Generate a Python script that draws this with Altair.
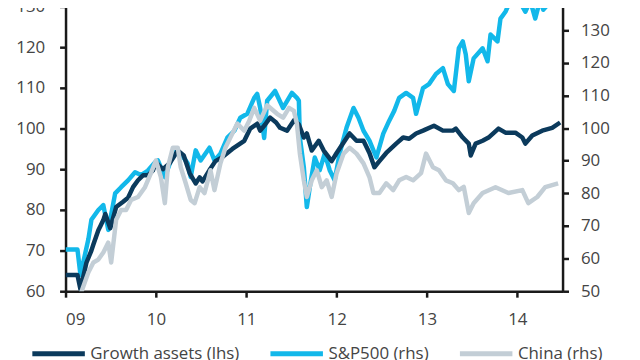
import altair as alt
import pandas as pd

series_names = ["Growth assets (lhs)", "S&P500 (rhs)", "China (rhs)"]
series_colors = ["#0b3a5c", "#12b8ea", "#c3ced6"]

x_ticks = [9, 10, 11, 12, 13, 14]
lhs_ticks = [60, 70, 80, 90, 100, 110, 120, 130]
rhs_ticks = [50, 60, 70, 80, 90, 100, 110, 120, 130, 140]

growth_t = [9.000, 9.132, 9.165, 9.231, 9.286, 9.308, 9.363, 9.385, 9.418, 9.440, 9.495,
            9.560, 9.637, 9.692, 9.747, 9.802, 9.857, 9.912, 9.967, 10.000, 10.077, 10.154,
            10.242, 10.308, 10.374, 10.440, 10.484, 10.516, 10.593, 10.659, 10.736, 10.846,
            10.978, 11.044, 11.121, 11.154, 11.209, 11.264, 11.330, 11.374, 11.451, 11.527,
            11.582, 11.637, 11.670, 11.725, 11.802, 11.857, 11.945, 12.000, 12.143, 12.220,
            12.297, 12.363, 12.418, 12.473, 12.549, 12.659, 12.736, 12.802, 12.879, 12.956,
            13.077, 13.176, 13.286, 13.319, 13.396, 13.462, 13.484, 13.538, 13.615, 13.681,
            13.791, 13.868, 13.978, 14.055, 14.088, 14.165, 14.275, 14.385, 14.473]
growth_v = [64.0, 64.0, 60.5, 67.0, 70.0, 71.5, 75.0, 76.0, 77.5, 79.0, 75.5,
            80.7, 82.0, 83.0, 85.6, 87.3, 88.5, 88.5, 89.7, 91.7, 90.0, 91.5,
            94.6, 93.4, 89.0, 86.5, 88.0, 87.0, 89.8, 92.0, 93.0, 95.0,
            97.0, 100.0, 101.2, 99.5, 101.0, 102.7, 101.5, 100.2, 99.5, 102.0,
            101.0, 97.8, 98.8, 94.6, 97.0, 94.6, 92.0, 94.0, 98.8, 97.0,
            97.0, 94.0, 90.5, 92.0, 94.0, 96.3, 97.8, 97.5, 98.8, 99.5,
            100.7, 99.5, 99.5, 100.0, 97.8, 96.3, 93.4, 96.3, 97.0, 97.8,
            100.0, 99.0, 99.0, 97.8, 96.3, 98.3, 99.5, 100.2, 101.5]

sp_t = [9.000, 9.132, 9.165, 9.253, 9.286, 9.363, 9.418, 9.473, 9.549, 9.615, 9.692,
        9.769, 9.835, 9.912, 9.989, 10.022, 10.099, 10.209, 10.275, 10.352, 10.385, 10.440,
        10.495, 10.593, 10.648, 10.714, 10.791, 10.868, 10.934, 11.011, 11.088, 11.121,
        11.154, 11.198, 11.231, 11.319, 11.407, 11.505, 11.560, 11.582, 11.593, 11.637,
        11.670, 11.703, 11.758, 11.813, 11.868, 11.923, 11.978, 12.033, 12.110, 12.187,
        12.242, 12.297, 12.363, 12.440, 12.516, 12.582, 12.637, 12.692, 12.769, 12.846,
        12.879, 12.956, 13.022, 13.099, 13.176, 13.231, 13.297, 13.352, 13.396, 13.429,
        13.462, 13.516, 13.615, 13.670, 13.703, 13.780, 13.813, 13.868, 13.923, 13.978,
        14.011, 14.088, 14.143, 14.198, 14.253, 14.286, 14.341]
sp_v = [62.8, 62.8, 55.0, 66.0, 71.9, 74.9, 76.4, 68.8, 80.0, 81.9, 84.0,
        86.5, 85.6, 87.0, 89.5, 90.1, 85.0, 93.2, 92.2, 89.2, 85.0, 93.2,
        90.1, 94.0, 90.1, 92.2, 97.1, 99.2, 103.2, 104.4, 109.3, 110.5,
        106.2, 97.0, 108.4, 111.4, 106.2, 110.8, 109.3, 108.4, 97.1, 88.0,
        75.8, 81.9, 91.0, 87.1, 92.2, 87.1, 84.0, 92.2, 100.2, 106.2,
        103.2, 99.2, 96.2, 91.0, 98.3, 102.3, 105.3, 109.3, 110.8, 109.3,
        104.4, 112.3, 113.5, 116.6, 118.4, 113.5, 111.4, 124.5, 126.6, 122.6,
        114.4, 121.4, 124.5, 120.5, 128.7, 126.6, 133.6, 135.7, 139.0, 141.0,
        139.5, 135.7, 139.0, 133.6, 139.5, 136.3, 138.0]

china_t = [9.165, 9.253, 9.308, 9.363, 9.418, 9.473, 9.505, 9.560, 9.615, 9.670, 9.725,
           9.802, 9.879, 9.945, 10.000, 10.055, 10.099, 10.132, 10.187, 10.242, 10.275,
           10.330, 10.385, 10.429, 10.484, 10.538, 10.604, 10.648, 10.714, 10.769, 10.824,
           10.901, 10.978, 11.033, 11.088, 11.154, 11.231, 11.341, 11.407, 11.473, 11.527,
           11.560, 11.593, 11.637, 11.670, 11.725, 11.780, 11.835, 11.890, 11.945, 12.000,
           12.077, 12.143, 12.220, 12.297, 12.363, 12.407, 12.473, 12.549, 12.626, 12.692,
           12.769, 12.846, 12.934, 12.989, 13.066, 13.132, 13.209, 13.286, 13.352, 13.407,
           13.462, 13.516, 13.615, 13.758, 13.901, 14.055, 14.121, 14.220, 14.308, 14.451]
china_v = [49.0, 55.8, 58.8, 59.7, 61.9, 64.9, 58.8, 71.9, 74.9, 74.9, 78.0,
           78.9, 81.9, 86.2, 90.1, 85.0, 77.0, 88.0, 94.0, 94.0, 88.0,
           83.1, 78.0, 77.0, 81.9, 80.1, 87.1, 81.0, 89.2, 94.0, 97.1,
           101.4, 99.2, 102.3, 106.2, 102.3, 107.0, 104.4, 103.2, 106.2, 105.3,
           101.4, 92.2, 84.0, 78.9, 84.0, 87.1, 81.9, 84.0, 78.9, 86.2,
           92.2, 94.0, 92.2, 89.2, 85.0, 80.1, 80.1, 83.1, 81.0, 84.0,
           85.0, 84.0, 86.2, 92.2, 88.0, 87.1, 84.0, 83.1, 81.0, 82.0,
           74.0, 77.0, 80.1, 81.9, 80.1, 81.0, 77.0, 78.9, 81.9, 83.1]

df = pd.concat([
    pd.DataFrame({"t": growth_t, "v": growth_v, "s": series_names[0]}),
    pd.DataFrame({"t": sp_t, "v": sp_v, "s": series_names[1]}),
    pd.DataFrame({"t": china_t, "v": china_v, "s": series_names[2]}),
])

FONT = "Open Sans"
LBL = "#444444"
AX = "#1a1a1a"

xenc = alt.X("t:Q", scale=alt.Scale(domain=[9, 14.5], nice=False, zero=False),
             axis=alt.Axis(values=x_ticks, format="02d", title=None, orient="bottom",
                           labelPadding=15))
color = alt.Color("s:N", scale=alt.Scale(domain=series_names, range=series_colors),
                  sort=series_names,
                  legend=alt.Legend(title=None, orient="none", direction="horizontal",
                                    legendX=-36, legendY=334, symbolType="stroke",
                                    symbolSize=2800, symbolStrokeWidth=5,
                                    labelFont=FONT, labelFontSize=17, labelColor=LBL,
                                    labelOffset=3, columnPadding=20, labelLimit=300))

rhs_scale = alt.Scale(domain=[50, 141.25], nice=False, zero=False)
lhs_scale = alt.Scale(domain=[60, 133.2], nice=False, zero=False)

base = alt.Chart(df)

sp = base.transform_filter(alt.datum.s == series_names[1]).mark_line(
    strokeWidth=4.5, clip=True, strokeJoin="round").encode(
    x=xenc,
    y=alt.Y("v:Q", scale=rhs_scale,
            axis=alt.Axis(values=rhs_ticks, orient="right", title=None, labelPadding=12)),
    color=color)

growth = base.transform_filter(alt.datum.s == series_names[0]).mark_line(
    strokeWidth=4.5, clip=True, strokeJoin="round").encode(
    x=xenc,
    y=alt.Y("v:Q", scale=lhs_scale,
            axis=alt.Axis(values=lhs_ticks, orient="left", title=None, labelPadding=15)),
    color=color)

china = base.transform_filter(alt.datum.s == series_names[2]).mark_line(
    strokeWidth=4.5, clip=True, strokeJoin="round").encode(
    x=xenc,
    y=alt.Y("v:Q", scale=rhs_scale, axis=None),
    color=color)

chart = alt.layer(sp, growth, china).resolve_scale(y="independent").properties(
    width=501, height=300,
    autosize=alt.AutoSizeParams(type="none"),
    padding={"left": 58, "top": -16, "right": 70, "bottom": 90},
).configure_view(stroke=None).configure_axis(
    grid=False, domainColor=AX, domainWidth=2.5, tickColor=AX, tickWidth=2.5,
    tickSize=6, labelFont=FONT, labelFontSize=17, labelColor=LBL,
)

chart.save("out.html", embed_options={"renderer": "svg", "actions": False})
